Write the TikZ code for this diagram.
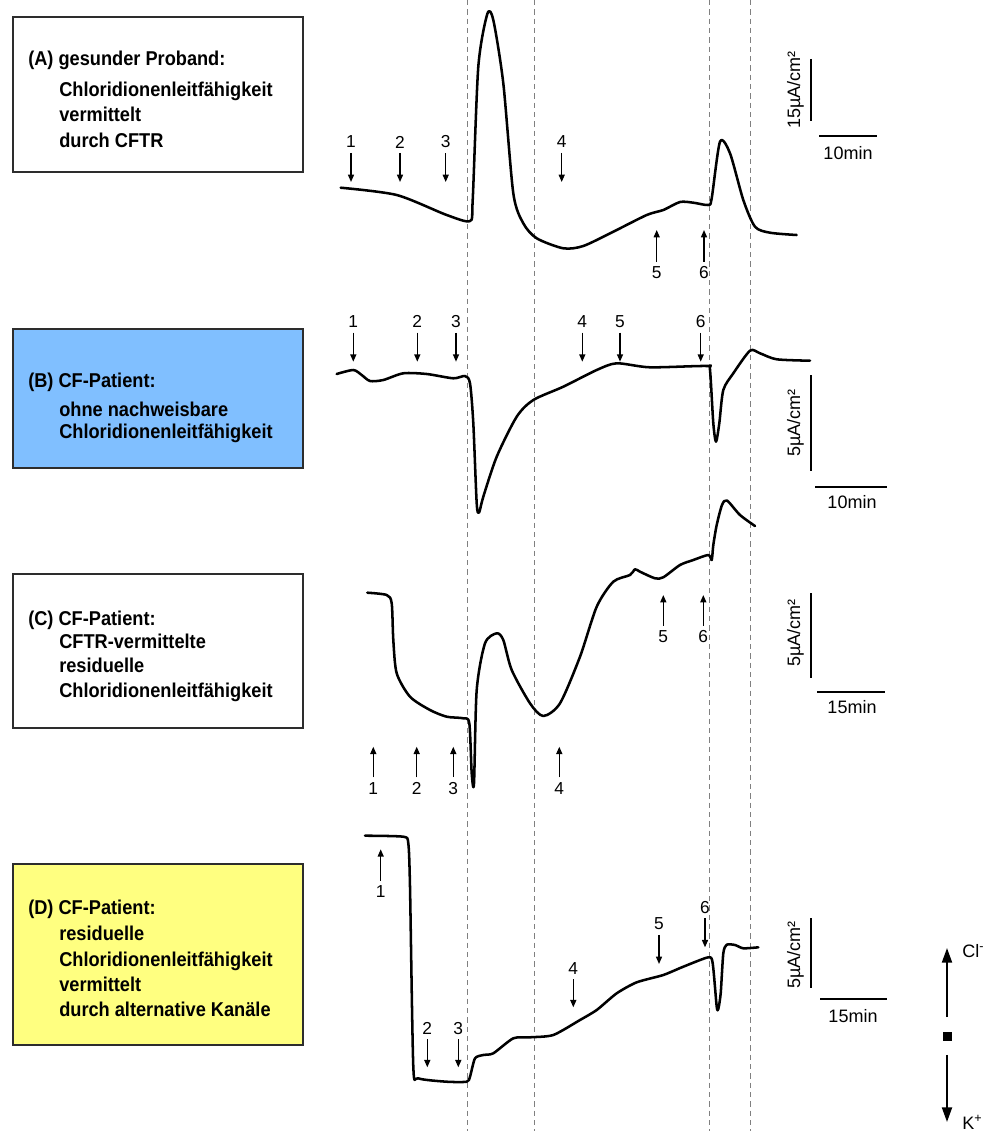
\documentclass[tikz,border=0pt]{standalone}
\usepackage{fontspec}
\setmainfont{Liberation Sans}
\newfontfamily\panelfont[FakeStretch=0.91]{Liberation Sans}
\usetikzlibrary{arrows.meta}

\definecolor{panelblue}{RGB}{128,191,255}
\definecolor{panelyellow}{RGB}{255,255,128}
\definecolor{frame}{RGB}{45,45,45}

\tikzset{
  panel/.style={draw=frame, line width=1.2pt, inner sep=0pt,
                minimum width=217.5pt, minimum height=#1},
  head/.style={anchor=base west, inner sep=0pt,
               font=\panelfont\bfseries\fontsize{15pt}{18pt}\selectfont},
  trace/.style={line width=1.9pt, line join=round, line cap=round},
  sep/.style={draw=gray, line width=0.75pt, dash pattern=on 4pt off 3pt},
  num/.style={font=\fontsize{13pt}{15pt}\selectfont, inner sep=3.5pt},
  marker/.style={line width=1pt, -{Triangle[length=5.5pt,width=4.5pt]}},
  bar/.style={line width=1.3pt},
  unit/.style={font=\fontsize{13.5pt}{16pt}\selectfont, inner sep=0pt},
  ionarrow/.style={line width=1.5pt, -{Triangle[length=11pt,width=7.5pt]}}
}

\begin{document}
\begin{tikzpicture}[x=0.75pt,y=-0.75pt]
\useasboundingbox (0,0) rectangle (985,1131);

% time markers shared by all four recordings
\foreach \xs [count=\i] in {467,534,709,750}{
  \coordinate (sepTop\i) at (\xs,0);
  \coordinate (sepBot\i) at (\xs,1131);
  \draw[sep] (sepTop\i) -- (sepBot\i);
}

% ---------------- panel texts ----------------
\node[panel=116.25pt, fill=white] (boxA) at (158,94.5) {};
\node[head] (hA) at (28,65) {(A) gesunder Proband:};
\node[head] (tA1) at (59,97) {Chloridionenleitfähigkeit};
\node[head] (tA2) at (59,122) {vermittelt};
\node[head] (tA3) at (59,147) {durch CFTR};

\node[panel=104.25pt, fill=panelblue] (boxB) at (158,398.5) {};
\node[head] (hB) at (28,387) {(B) CF-Patient:};
\node[head] (tB1) at (59,416) {ohne nachweisbare};
\node[head] (tB2) at (59,438) {Chloridionenleitfähigkeit};

\node[panel=115.5pt, fill=white] (boxC) at (158,651) {};
\node[head] (hC) at (28,625) {(C) CF-Patient:};
\node[head] (tC1) at (59,648) {CFTR-vermittelte};
\node[head] (tC2) at (59,672) {residuelle};
\node[head] (tC3) at (59,697) {Chloridionenleitfähigkeit};

\node[panel=135.75pt, fill=panelyellow] (boxD) at (158,954.5) {};
\node[head] (hD) at (28,914) {(D) CF-Patient:};
\node[head] (tD1) at (59,940) {residuelle};
\node[head] (tD2) at (59,966) {Chloridionenleitfähigkeit};
\node[head] (tD3) at (59,991) {vermittelt};
\node[head] (tD4) at (59,1016) {durch alternative Kanäle};

% ---------------- recording A ----------------
\draw[trace] plot[smooth, tension=0.45] coordinates {
  (340.7,187.7) (396.7,195) (446.7,215) (470,221) (472.7,200)
  (478.3,66.7) (487.3,14) (493.3,20) (503.3,83.3) (513.3,193.3)
  (523.3,223.3) (536.7,238.3) (563.3,248.3) (583.3,246) (613.3,231.7)
  (646.7,215) (663.3,210) (680,202) (693.3,202.7) (708.3,205)
  (711.7,198.3) (720,141.7) (730,153.3) (743.3,200) (755,226.7)
  (770,232.7) (796.7,235)};
\foreach \n/\xa in {1/351,2/400,3/445.7,4/561.7}{
  \node[num] (A\n) at (\xa,142) {\n};
  \coordinate (tipA\n) at (\xa,182);
  \draw[marker] (A\n) -- (tipA\n);
}
\foreach \n/\xa in {5/656.7,6/704}{
  \node[num] (A\n) at (\xa,273) {\n};
  \coordinate (tipA\n) at (\xa,230);
  \draw[marker] (A\n) -- (tipA\n);
}
\coordinate (vA1) at (811,59);  \coordinate (vA2) at (811,121);
\coordinate (hA1) at (819,136); \coordinate (hA2) at (877,136);
\draw[bar] (vA1) -- (vA2);
\draw[bar] (hA1) -- (hA2);
\node[unit, rotate=90] (uA) at (795.5,90) {15µA/cm²};
\node[unit] (mA) at (848,153) {10min};

% ---------------- recording B ----------------
\draw[trace] plot[smooth, tension=0.45] coordinates {
  (336.7,374) (353.3,370) (361.7,375) (370,381) (383.3,380)
  (403.3,373.3) (426.7,374) (453.3,378.3) (465,376) (470,383.3)
  (473.3,423.3) (476.7,503.3) (479,512.7) (483.3,496.7) (496.7,456.7)
  (516.7,416.7) (533.3,400) (563.3,386.7) (596.7,370) (616.7,363.3)
  (650,367.3) (706.7,366) (710,370) (713.3,423.3) (716,441.7)
  (719.3,423.3) (723.3,390) (733.3,373.3) (750,350.7) (760,353.3)
  (776.7,359.3) (810,360.7)};
\foreach \n/\xa in {1/353.3,2/417.3,3/456,4/582.3,5/620,6/700.7}{
  \node[num] (B\n) at (\xa,321.7) {\n};
  \coordinate (tipB\n) at (\xa,361.7);
  \draw[marker] (B\n) -- (tipB\n);
}
\coordinate (vB1) at (811,375);  \coordinate (vB2) at (811,471);
\coordinate (hB1) at (815,487);  \coordinate (hB2) at (887,487);
\draw[bar] (vB1) -- (vB2);
\draw[bar] (hB1) -- (hB2);
\node[unit, rotate=90] (uB) at (795.5,423) {5µA/cm²};
\node[unit] (mB) at (852,502) {10min};

% ---------------- recording C ----------------
\draw[trace] plot[smooth, tension=0.45] coordinates {
  (367.3,592.7) (386.7,595) (391.7,603.3) (393.3,640) (396.7,673.3)
  (410,696.7) (430,710) (446.7,716.7) (463.3,718.3) (469.3,723.3)
  (471.7,773.3) (474,783.3) (476.7,690) (485,643.3) (496.7,633.3)
  (503.3,640) (511.7,670) (530,703.3) (543.3,716) (560,703.3)
  (580,656.7) (596.7,606.7) (613.3,581.7) (630,575) (635,569.3)
  (640,571.7) (655,578.3) (663.3,577.3) (680,565) (693.3,560)
  (708.3,555) (711.7,560) (713.3,545) (716.7,525) (722,505)
  (727,500.5) (740,515) (755,526)};
\foreach \n/\xa in {1/373.3,2/416.7,3/453.3,4/559.3}{
  \node[num] (C\n) at (\xa,788.3) {\n};
  \coordinate (tipC\n) at (\xa,746.7);
  \draw[marker] (C\n) -- (tipC\n);
}
\foreach \n/\xa in {5/663.3,6/703.3}{
  \node[num] (C\n) at (\xa,636.7) {\n};
  \coordinate (tipC\n) at (\xa,595);
  \draw[marker] (C\n) -- (tipC\n);
}
\coordinate (vC1) at (811,593);  \coordinate (vC2) at (811,678);
\coordinate (hC1) at (817,692);  \coordinate (hC2) at (885,692);
\draw[bar] (vC1) -- (vC2);
\draw[bar] (hC1) -- (hC2);
\node[unit, rotate=90] (uC) at (795.5,633) {5µA/cm²};
\node[unit] (mC) at (852,707) {15min};

% ---------------- recording D ----------------
\draw[trace] plot[smooth, tension=0.4] coordinates {
  (365,835.7) (403.3,836.7) (408.3,843.3) (410,886.7) (413.3,1066.7)
  (418.3,1078.3) (446.7,1081.7) (466.7,1081.7) (470,1076.7) (475,1058.3)
  (483.3,1055) (493.3,1053.3) (513.3,1038.3) (530,1037.3) (553.3,1035)
  (580,1020) (596.7,1010) (616.7,993.3) (636.7,982.3) (663.3,975)
  (683.3,966.7) (708.3,957.3) (712.7,963.3) (716.7,1006.7) (718.3,1009)
  (720.7,993.3) (723.3,953.3) (726.7,944.7) (735,945) (743.3,948.3)
  (758.3,947.3)};
\node[num] (D1) at (380.7,891.7) {1};
\coordinate (tipD1) at (380.7,849.3);
\draw[marker] (D1) -- (tipD1);
\foreach \n/\xa/\yl/\yt in {2/427.3/1028.3/1067.3, 3/458.3/1028.3/1067.3,
                            4/573.3/968.3/1007.3, 5/659/924/964, 6/705/907.3/947.3}{
  \node[num] (D\n) at (\xa,\yl) {\n};
  \coordinate (tipD\n) at (\xa,\yt);
  \draw[marker] (D\n) -- (tipD\n);
}
\coordinate (vD1) at (811,918);  \coordinate (vD2) at (811,988);
\coordinate (hD1) at (820,999);  \coordinate (hD2) at (887,999);
\draw[bar] (vD1) -- (vD2);
\draw[bar] (hD1) -- (hD2);
\node[unit, rotate=90] (uD) at (795.5,955) {5µA/cm²};
\node[unit] (mD) at (853,1016) {15min};

% ---------------- current direction ----------------
\node[fill=black, minimum size=6.75pt, inner sep=0pt] (zero) at (947,1036) {};
\coordinate (clTip) at (947,948);
\coordinate (kTip) at (947,1122);
\draw[ionarrow] (zero.north) ++(0,-14) coordinate (clFoot) -- (clTip);
\draw[ionarrow] (zero.south) ++(0,14) coordinate (kFoot) -- (kTip);
\node[unit, anchor=base west] (cl) at (962,957) {Cl\textsuperscript{-}};
\node[unit, anchor=base west] (kp) at (962,1129) {K\textsuperscript{+}};
\end{tikzpicture}
\end{document}
